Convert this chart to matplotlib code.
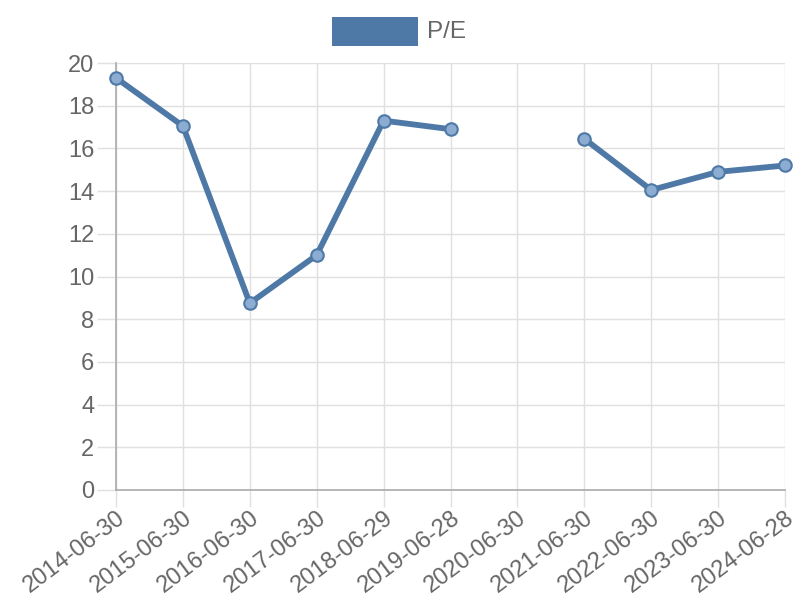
import matplotlib
matplotlib.use("Agg")
import matplotlib.pyplot as plt
from matplotlib.patches import Rectangle
import numpy as np

dates = ["2014-06-30", "2015-06-30", "2016-06-30", "2017-06-30", "2018-06-29",
         "2019-06-28", "2020-06-30", "2021-06-30", "2022-06-30", "2023-06-30", "2024-06-28"]
pe = [19.3, 17.05, 8.75, 11.0, 17.3, 16.9, None, 16.45, 14.05, 14.9, 15.2]
yticks = [0, 2, 4, 6, 8, 10, 12, 14, 16, 18, 20]

color = "#4e79a7"
text_color = "#666666"
plt.rcParams['font.family'] = ['Liberation Sans', 'DejaVu Sans']

fig = plt.figure(figsize=(8, 6), dpi=100)
ax = fig.add_axes([116/800, 1-490/600, (785-116)/800, (490-63)/600])

x = np.arange(len(dates))
y = np.array([np.nan if v is None else v for v in pe], dtype=float)
ax.plot(x, y, color=color, linewidth=4.2, solid_capstyle='round', solid_joinstyle='round',
        zorder=3, clip_on=False)
ax.plot(x, y, linestyle='none', marker='o', markersize=9,
        markerfacecolor=(0.55, 0.68, 0.82, 1.0), markeredgecolor=color,
        markeredgewidth=1.5, zorder=4, clip_on=False)

ax.set_xlim(0, len(dates)-1)
ax.set_ylim(0, 20)
ax.set_xticks(x)
ax.set_xticklabels(dates, rotation=37, ha='right', rotation_mode='anchor')
ax.set_yticks(yticks)
ax.grid(True, color="#e0e0e0", linewidth=1)
ax.set_axisbelow(True)
for s in ['top', 'right']:
    ax.spines[s].set_visible(False)
for s in ['left', 'bottom']:
    ax.spines[s].set_color("#aaaaaa")
    ax.spines[s].set_linewidth(1.2)
ax.tick_params(axis='both', colors="#e0e0e0", width=1, labelcolor=text_color, labelsize=17)
ax.tick_params(axis='y', length=14, pad=1.5)
ax.tick_params(axis='x', length=12, pad=0)

fig.patches.append(Rectangle((332/800, 1-46/600), 86/800, 29/600, transform=fig.transFigure,
                             facecolor=color, edgecolor='none'))
fig.text(427/800, 1-32/600, "P/E", color=text_color, fontsize=17.5, va='center', ha='left')

fig.savefig("out.png", dpi=100)
